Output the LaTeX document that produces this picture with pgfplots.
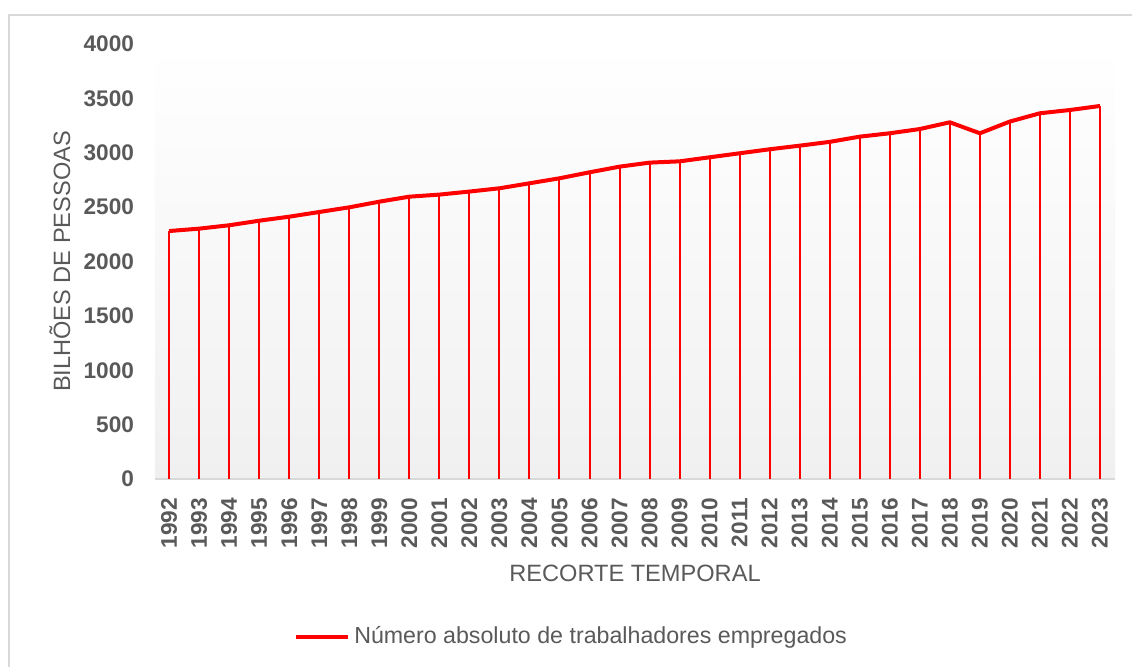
\documentclass[border=0pt]{standalone}
\usepackage{pgfplots}
\pgfplotsset{compat=1.18}
\usepackage{pgfplotstable}
\usepackage{fontspec}
\setmainfont{Liberation Sans}
\definecolor{txtgray}{HTML}{595959}
\definecolor{bordergray}{HTML}{D9D9D9}
\definecolor{bggray}{HTML}{F0F0F0}

% trabalhadores empregados (milhoes... eixo diz bilhoes)
\pgfplotstableread{
year value
1992 2280
1993 2302
1994 2333
1995 2375
1996 2412
1997 2455
1998 2498
1999 2550
2000 2596
2001 2615
2002 2643
2003 2673
2004 2719
2005 2765
2006 2820
2007 2872
2008 2909
2009 2921
2010 2958
2011 2995
2012 3032
2013 3065
2014 3100
2015 3148
2016 3179
2017 3218
2018 3280
2019 3179
2020 3287
2021 3363
2022 3393
2023 3430
}\emprego

\begin{document}
\begin{tikzpicture}
\useasboundingbox (0,0) rectangle (566pt,333.5pt);
\draw[bordergray, line width=1pt] (4.5pt,-2pt) -- (4.5pt,326pt) -- (570pt,326pt);
\begin{axis}[
    at={(77.5pt,94pt)}, anchor=south west,
    scale only axis,
    width=480pt, height=217.5pt,
    xmin=1991.53, xmax=2023.5,
    ymin=0, ymax=4000,
    xtick=data,
    ytick={0,500,...,4000},
    major tick length=0pt,
    axis x line*=bottom, axis y line*=left,
    axis line style={-},
    x axis line style={draw=bordergray, line width=1pt},
    y axis line style={draw=none},
    axis background/.style={top color=white, bottom color=bggray},
    /pgf/number format/1000 sep={},
    /pgf/number format/assume math mode=true,
    ticklabel style={font=\bfseries\fontsize{11.3}{13}\selectfont, text=txtgray},
    xticklabel style={rotate=90, anchor=east},
    xticklabel shift=6pt,
    yticklabel shift=7pt,
    xlabel={RECORTE TEMPORAL},
    ylabel={BILHÕES DE PESSOAS},
    label style={font=\fontsize{11.8}{14}\selectfont, text=txtgray},
    xlabel style={at={(axis description cs:0.5,-0.216)}, anchor=center},
    ylabel style={at={(axis description cs:-0.099,0.5)}, anchor=center},
    legend style={at={(0.435,-0.363)}, anchor=center, draw=none, fill=none,
        font=\fontsize{11.6}{14}\selectfont, text=txtgray},
    legend image code/.code={\draw[#1] (0pt,0pt) -- (26pt,0pt);},
]
\addplot[ycomb, red, line width=1pt, forget plot] table[x=year, y=value] {\emprego};
\addplot[red, line width=2pt, line join=round] table[x=year, y=value] {\emprego};
\addlegendentry{Número absoluto de trabalhadores empregados}
\end{axis}
\end{tikzpicture}
\end{document}
